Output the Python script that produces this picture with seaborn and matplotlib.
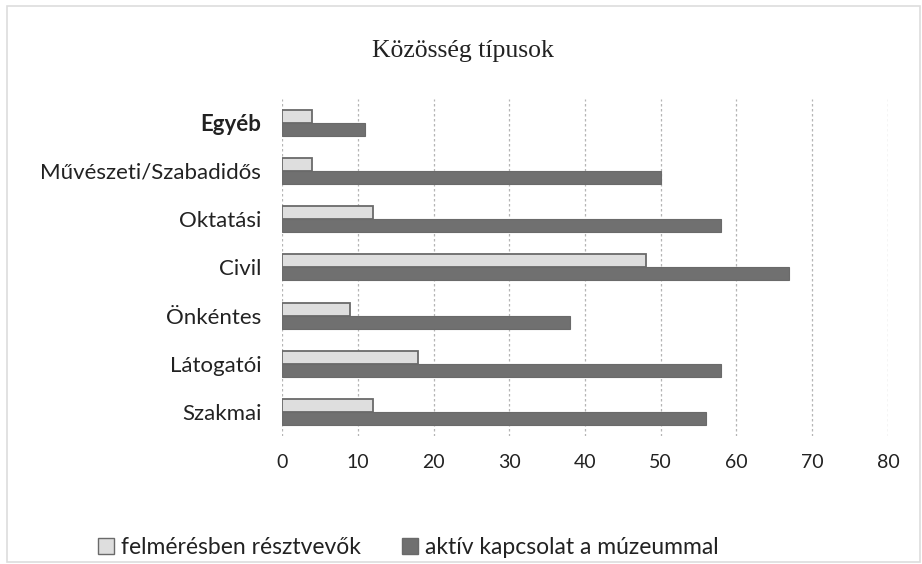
import matplotlib
matplotlib.use("Agg")
import matplotlib.pyplot as plt
import seaborn as sns
import pandas as pd

# Közösség típusok
categories = ['Egyéb', 'Művészeti/Szabadidős', 'Oktatási', 'Civil', 'Önkéntes', 'Látogatói', 'Szakmai']
resztvevok = [4, 4, 12, 48, 9, 18, 12]
aktiv = [11, 50, 58, 67, 38, 58, 56]
series = ['felmérésben résztvevők', 'aktív kapcsolat a múzeummal']
x_ticks = [0, 10, 20, 30, 40, 50, 60, 70, 80]

df = pd.DataFrame({
    'kategoria': categories * 2,
    'ertek': resztvevok + aktiv,
    'csoport': [series[0]] * len(categories) + [series[1]] * len(categories),
})

sns.set_style('white')
plt.rcParams['font.family'] = ['Lato', 'DejaVu Sans']

fig = plt.figure(figsize=(9.22, 5.64), dpi=100)
ax = fig.add_axes([0.306, 0.227, 0.657, 0.598])

colors = {series[0]: '#dedede', series[1]: '#707070'}
sns.barplot(data=df, y='kategoria', x='ertek', hue='csoport', order=categories,
            hue_order=series, palette=colors, orient='h', width=0.54,
            ax=ax, legend=False)

# dark outline on the light bars
for bar in ax.containers[0]:
    bar.set_edgecolor('#6a6a6a')
    bar.set_linewidth(1.3)
for bar in ax.containers[1]:
    bar.set_edgecolor('#6a6a6a')
    bar.set_linewidth(0.8)

ax.set_xlim(0, 80)
ax.set_xticks(x_ticks)
ax.set_xticklabels([str(t) for t in x_ticks])
ax.set_xlabel('')
ax.set_ylabel('')
for s in ax.spines.values():
    s.set_visible(False)
ax.xaxis.grid(True, color='#b5b5b5', linestyle=(0, (2, 2)), linewidth=0.9)
ax.set_axisbelow(True)
ax.tick_params(axis='x', length=0, labelsize=14, pad=13, colors='#222222')
ax.tick_params(axis='y', length=0, labelsize=16, pad=15, colors='#222222')
ax.get_yticklabels()[0].set_fontweight('bold')

fig.text(0.502, 0.91, 'Közösség típusok', ha='center', va='center',
         fontsize=18.5, family='Liberation Serif', color='#222222')

handles = [plt.Rectangle((0, 0), 1, 1, facecolor=colors[s], edgecolor='#6a6a6a', linewidth=1) for s in series]
fig.legend(handles, series, loc='center', bbox_to_anchor=(0.443, 0.03), ncol=2,
           frameon=False, fontsize=16.5, handlelength=0.7, handleheight=0.7,
           handletextpad=0.3, columnspacing=1.8, labelcolor='#222222')

# faint frame of the scanned figure
fig.patches.append(plt.Rectangle((0.008, 0.004), 0.99, 0.985, transform=fig.transFigure,
                                 fill=False, edgecolor='#dddddd', linewidth=1.2))

fig.savefig('out.png', dpi=100)
